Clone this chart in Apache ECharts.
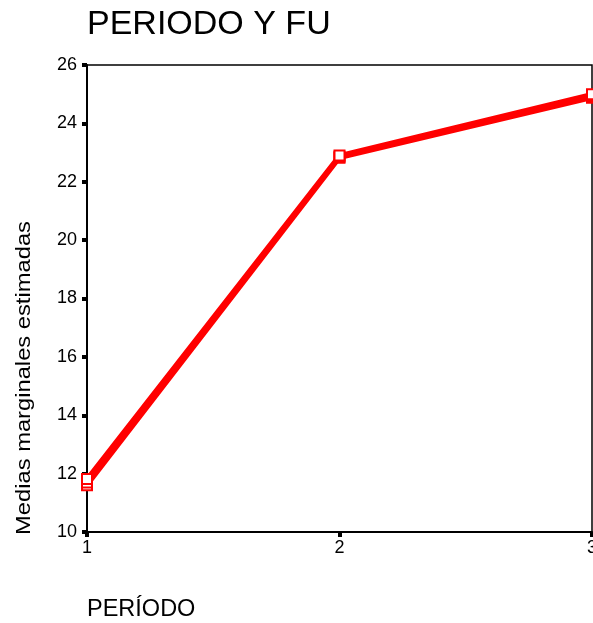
<!DOCTYPE html>
<html>
<head>
<meta charset="utf-8">
<script src="https://cdn.jsdelivr.net/npm/echarts@6/dist/echarts.min.js"></script>
<style>html,body{margin:0;padding:0;background:#fff;}#c{width:593px;height:623px;}</style>
</head>
<body>
<div id="c"></div>
<script>
const titleText = 'PERIODO Y FU';
const xTitle = 'PERÍODO';
const yTitle = 'Medias marginales estimadas';
const categories = ['1', '2', '3'];
const seriesA = [11.60, 22.82, 24.88];
const seriesB = [11.70, 22.86, 24.94];
const seriesC = [11.82, 22.90, 25.00];
const yMin = 10, yMax = 26, yStep = 2;

const font = 'Liberation Sans, Arial, sans-serif';
const chart = echarts.init(document.getElementById('c'), null, {renderer: 'canvas'});

function lineSeries(data) {
  return {
    type: 'line',
    data: data,
    symbol: 'emptyRect',
    symbolSize: 10,
    lineStyle: {color: '#ff0000', width: 4.5},
    itemStyle: {color: '#ff0000', borderColor: '#ff0000', borderWidth: 1.5},
    z: 3,
    animation: false
  };
}

chart.setOption({
  animation: false,
  backgroundColor: '#ffffff',
  grid: {left: 87, right: 1, top: 65, bottom: 91, show: true, borderColor: '#000', borderWidth: 1.5, backgroundColor: 'transparent', containLabel: false, outerBoundsMode: 'none'},
  xAxis: {
    type: 'category',
    data: categories,
    boundaryGap: false,
    axisLine: {lineStyle: {color: '#000', width: 2}},
    axisTick: {show: true, length: 5, alignWithLabel: true, lineStyle: {color: '#000', width: 4}},
    axisLabel: {color: '#000', fontSize: 18, fontFamily: font, margin: 7, hideOverlap: false},
    splitLine: {show: false}
  },
  yAxis: {
    type: 'value',
    min: yMin, max: yMax, interval: yStep,
    axisLine: {show: true, lineStyle: {color: '#000', width: 2}},
    axisTick: {show: true, length: 5, lineStyle: {color: '#000', width: 4}},
    axisLabel: {color: '#000', fontSize: 18, fontFamily: font, margin: 10},
    splitLine: {show: false}
  },
  series: [lineSeries(seriesA), lineSeries(seriesB), lineSeries(seriesC)],
  graphic: [
    {type: 'text', x: 87, y: 25, style: {text: titleText, font: '34px ' + font, fill: '#000', textAlign: 'left', textVerticalAlign: 'middle'}},
    {type: 'text', x: 87, y: 610, style: {text: xTitle, font: '23.5px ' + font, fill: '#000', textAlign: 'left', textVerticalAlign: 'middle'}},
    {type: 'text', x: 24, y: 378, rotation: Math.PI / 2, scaleX: 1.13, style: {text: yTitle, font: '21px ' + font, fill: '#000', textAlign: 'center', textVerticalAlign: 'middle'}}
  ]
});
</script>
</body>
</html>
